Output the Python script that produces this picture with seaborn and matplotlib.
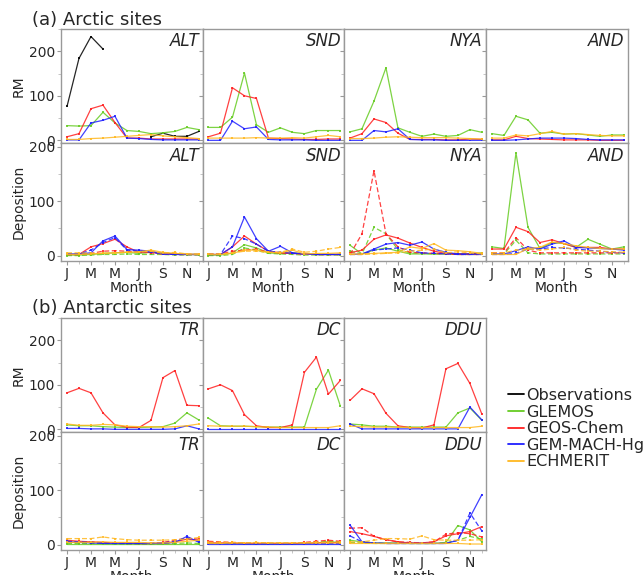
import numpy as np
import pandas as pd
import matplotlib
matplotlib.use("Agg")
import matplotlib.pyplot as plt
from matplotlib.lines import Line2D
from matplotlib.ticker import MultipleLocator
import seaborn as sns

nan = np.nan
months = list(range(1, 13))
month_ticks = [1, 3, 5, 7, 9, 11]
month_labels = ['J', 'M', 'M', 'J', 'S', 'N']
models = ['Observations', 'GLEMOS', 'GEOS-Chem', 'GEM-MACH-Hg', 'ECHMERIT']
colors = ['black', '#66cc22', '#ff2020', '#1f1fff', '#ffb820']

arctic_sites = ['ALT', 'SND', 'NYA', 'AND']
antarctic_sites = ['TR', 'DC', 'DDU']

# RM, Arctic
alt_rm = {
    'Observations': [76, 184, 233, 205, nan, nan, nan, 8, 16, 9, 9, 20],
    'GLEMOS': [33, 32, 33, 63, 39, 22, 20, 15, 17, 20, 29, 24],
    'GEOS-Chem': [8, 15, 71, 79, 40, 5, 5, 3, 3, 3, 3, 3],
    'GEM-MACH-Hg': [1, 1, 39, 45, 54, 5, 4, 2, 1, 1, 1, 1],
    'ECHMERIT': [2, 2, 4, 5, 7, 9, 11, 13, 10, 8, 6, 4],
}
snd_rm = {
    'GLEMOS': [29, 29, 52, 151, 35, 18, 28, 18, 15, 22, 22, 22],
    'GEOS-Chem': [8, 16, 118, 100, 94, 5, 4, 3, 2, 2, 3, 3],
    'GEM-MACH-Hg': [0, 0, 43, 26, 30, 2, 1, 1, 1, 0, 0, 0],
    'ECHMERIT': [5, 5, 5, 5, 6, 5, 5, 6, 5, 8, 11, 8],
}
nya_rm = {
    'GLEMOS': [19, 26, 88, 163, 28, 18, 9, 14, 9, 11, 24, 18],
    'GEOS-Chem': [5, 15, 48, 40, 16, 2, 2, 2, 1, 1, 3, 2],
    'GEM-MACH-Hg': [0, 0, 22, 19, 26, 2, 1, 1, 0, 0, 0, 0],
    'ECHMERIT': [4, 4, 5, 7, 8, 7, 6, 6, 6, 5, 4, 3],
}
and_rm = {
    'GLEMOS': [15, 11, 54, 46, 16, 18, 14, 15, 12, 9, 12, 12],
    'GEOS-Chem': [1, 1, 9, 4, 3, 2, 1, 1, 1, 0, 0, 0],
    'GEM-MACH-Hg': [0, 0, 1, 3, 5, 5, 5, 4, 2, 1, 1, 1],
    'ECHMERIT': [5, 5, 12, 10, 15, 20, 14, 15, 13, 11, 10, 10],
}

# Deposition, Arctic (solid and dashed series per model)
alt_dep_solid = {
    'GLEMOS': [1, 1, 2, 4, 5, 6, 4, 6, 5, 3, 2, 2],
    'GEOS-Chem': [2, 2, 16, 22, 30, 16, 6, 6, 3, 3, 2, 2],
    'GEM-MACH-Hg': [3, 3, 5, 27, 36, 11, 10, 8, 3, 2, 2, 2],
    'ECHMERIT': [2, 2, 3, 4, 5, 6, 7, 10, 6, 4, 3, 2],
}
alt_dep_dashed = {
    'GLEMOS': [0, 0, 1, 2, 2, 3, 2, 2, 2, 1, 1, 1],
    'GEOS-Chem': [2, 2, 4, 8, 9, 8, 6, 5, 3, 2, 2, 2],
    'GEM-MACH-Hg': [3, 3, 10, 24, 33, 10, 8, 6, 3, 2, 2, 2],
    'ECHMERIT': [5, 5, 4, 4, 5, 6, 6, 8, 4, 6, 3, 3],
}
snd_dep_solid = {
    'GLEMOS': [1, 1, 5, 20, 14, 5, 4, 5, 3, 2, 2, 2],
    'GEOS-Chem': [2, 2, 16, 36, 21, 8, 5, 4, 3, 2, 2, 2],
    'GEM-MACH-Hg': [2, 2, 16, 71, 31, 8, 17, 5, 3, 2, 2, 2],
    'ECHMERIT': [2, 2, 4, 10, 10, 6, 5, 10, 3, 4, 4, 5],
}
snd_dep_dashed = {
    'GLEMOS': [0, 0, 2, 14, 10, 4, 3, 2, 1, 1, 1, 1],
    'GEOS-Chem': [3, 3, 8, 10, 12, 6, 5, 4, 3, 2, 2, 2],
    'GEM-MACH-Hg': [2, 2, 36, 31, 21, 8, 6, 4, 3, 2, 2, 2],
    'ECHMERIT': [3, 3, 5, 8, 8, 6, 6, 12, 6, 8, 12, 15],
}
nya_dep_solid = {
    'GLEMOS': [19, 3, 10, 14, 8, 3, 3, 3, 3, 3, 3, 5],
    'GEOS-Chem': [5, 10, 30, 38, 32, 23, 15, 8, 4, 3, 3, 3],
    'GEM-MACH-Hg': [2, 3, 12, 21, 24, 19, 25, 12, 6, 3, 3, 3],
    'ECHMERIT': [3, 3, 4, 5, 6, 16, 13, 22, 10, 9, 7, 4],
}
nya_dep_dashed = {
    'GLEMOS': [8, 3, 52, 40, 11, 5, 4, 3, 3, 2, 2, 2],
    'GEOS-Chem': [2, 40, 156, 40, 16, 6, 5, 4, 3, 2, 2, 2],
    'GEM-MACH-Hg': [2, 2, 10, 12, 14, 10, 5, 4, 3, 2, 2, 2],
    'ECHMERIT': [2, 2, 3, 4, 5, 8, 10, 12, 5, 7, 5, 3],
}
and_dep_solid = {
    'GLEMOS': [16, 13, 189, 52, 13, 24, 22, 15, 30, 21, 12, 16],
    'GEOS-Chem': [12, 12, 52, 44, 24, 29, 22, 15, 15, 15, 12, 12],
    'GEM-MACH-Hg': [3, 3, 9, 16, 12, 21, 27, 15, 14, 13, 12, 10],
    'ECHMERIT': [2, 2, 2, 13, 15, 25, 22, 18, 15, 13, 12, 12],
}
and_dep_dashed = {
    'GLEMOS': [3, 3, 28, 5, 3, 3, 3, 3, 3, 3, 3, 3],
    'GEOS-Chem': [5, 5, 33, 10, 5, 5, 5, 5, 5, 5, 5, 5],
    'GEM-MACH-Hg': [2, 2, 4, 12, 12, 15, 14, 12, 10, 8, 6, 5],
    'ECHMERIT': [5, 5, 10, 12, 10, 12, 15, 10, 8, 8, 7, 6],
}

# RM, Antarctic
tr_rm = {
    'GLEMOS': [10, 8, 8, 6, 5, 4, 4, 5, 6, 14, 37, 21],
    'GEOS-Chem': [82, 92, 82, 37, 10, 5, 4, 20, 116, 132, 54, 53],
    'GEM-MACH-Hg': [2, 2, 1, 1, 0, 0, 0, 0, 0, 1, 8, 1],
    'ECHMERIT': [12, 9, 9, 11, 10, 7, 6, 6, 5, 6, 8, 12],
}
dc_rm = {
    'GLEMOS': [25, 8, 7, 7, 6, 5, 5, 5, 5, 90, 133, 52],
    'GEOS-Chem': [91, 100, 87, 33, 8, 4, 4, 10, 128, 162, 79, 110],
    'GEM-MACH-Hg': [1, 1, 1, 1, 1, 1, 1, 1, 1, 1, 1, 1],
    'ECHMERIT': [8, 7, 7, 7, 6, 5, 4, 4, 4, 4, 4, 8],
}
ddu_rm = {
    'GLEMOS': [12, 10, 7, 7, 5, 5, 5, 5, 5, 37, 48, 20],
    'GEOS-Chem': [65, 91, 80, 36, 8, 4, 3, 10, 136, 148, 103, 34],
    'GEM-MACH-Hg': [12, 1, 1, 1, 1, 1, 1, 1, 1, 1, 50, 21],
    'ECHMERIT': [7, 6, 5, 5, 5, 4, 4, 4, 4, 4, 4, 7],
}

# Deposition, Antarctic
tr_dep_solid = {
    'GLEMOS': [1, 1, 1, 1, 1, 1, 1, 1, 1, 1, 1, 1],
    'GEOS-Chem': [8, 6, 5, 4, 3, 3, 2, 2, 3, 5, 10, 8],
    'GEM-MACH-Hg': [5, 4, 3, 2, 2, 2, 2, 2, 2, 4, 15, 4],
    'ECHMERIT': [4, 4, 4, 5, 4, 4, 4, 3, 3, 4, 6, 8],
}
tr_dep_dashed = {
    'GLEMOS': [2, 2, 2, 2, 1, 1, 1, 1, 1, 2, 3, 2],
    'GEOS-Chem': [6, 5, 5, 3, 3, 2, 2, 2, 4, 8, 12, 10],
    'GEM-MACH-Hg': [6, 5, 4, 3, 2, 2, 2, 2, 3, 6, 12, 6],
    'ECHMERIT': [11, 11, 11, 14, 11, 9, 8, 8, 8, 9, 10, 13],
}
dc_dep_solid = {
    'GLEMOS': [2, 2, 2, 1, 1, 1, 1, 1, 2, 3, 5, 4],
    'GEOS-Chem': [3, 3, 3, 2, 2, 2, 2, 2, 2, 3, 4, 3],
    'GEM-MACH-Hg': [1, 1, 1, 1, 1, 1, 1, 1, 1, 1, 1, 1],
    'ECHMERIT': [2, 2, 3, 3, 3, 3, 3, 3, 3, 3, 3, 3],
}
dc_dep_dashed = {
    'GLEMOS': [3, 3, 2, 2, 2, 2, 2, 2, 3, 4, 6, 5],
    'GEOS-Chem': [6, 5, 4, 3, 3, 2, 2, 2, 4, 6, 8, 6],
    'GEM-MACH-Hg': [2, 2, 2, 2, 2, 2, 2, 2, 2, 2, 2, 2],
    'ECHMERIT': [4, 4, 4, 3, 4, 3, 3, 3, 3, 4, 4, 5],
}
ddu_dep_solid = {
    'GLEMOS': [8, 5, 3, 3, 3, 2, 2, 2, 4, 35, 27, 5],
    'GEOS-Chem': [24, 20, 15, 9, 5, 3, 3, 5, 16, 20, 24, 33],
    'GEM-MACH-Hg': [36, 5, 3, 2, 2, 2, 2, 2, 2, 8, 50, 92],
    'ECHMERIT': [2, 2, 2, 2, 2, 2, 2, 2, 2, 2, 1, 1],
}
ddu_dep_dashed = {
    'GLEMOS': [4, 3, 2, 2, 2, 2, 2, 2, 3, 8, 15, 10],
    'GEOS-Chem': [30, 31, 15, 9, 5, 4, 3, 5, 19, 22, 20, 14],
    'GEM-MACH-Hg': [16, 5, 3, 2, 2, 2, 2, 2, 2, 8, 58, 25],
    'ECHMERIT': [5, 5, 8, 11, 11, 10, 16, 9, 8, 8, 8, 9],
}

rm_data = {'ALT': alt_rm, 'SND': snd_rm, 'NYA': nya_rm, 'AND': and_rm,
           'TR': tr_rm, 'DC': dc_rm, 'DDU': ddu_rm}
dep_data = {
    'ALT': (alt_dep_solid, alt_dep_dashed), 'SND': (snd_dep_solid, snd_dep_dashed),
    'NYA': (nya_dep_solid, nya_dep_dashed), 'AND': (and_dep_solid, and_dep_dashed),
    'TR': (tr_dep_solid, tr_dep_dashed), 'DC': (dc_dep_solid, dc_dep_dashed),
    'DDU': (ddu_dep_solid, ddu_dep_dashed),
}

# long-form table, gaps (nan) split a series into separate units
rows = []


def add_rows(site, quantity, kind, series):
    for model, vals in series.items():
        seg = 0
        for m, v in zip(months, vals):
            if np.isnan(v):
                seg += 1
                continue
            rows.append(dict(site=site, quantity=quantity, kind=kind, model=model,
                             unit=f'{model}-{kind}-{seg}', month=m, value=v))


for site, series in rm_data.items():
    add_rows(site, 'RM', 'solid', series)
for site, (solid, dashed) in dep_data.items():
    add_rows(site, 'Deposition', 'solid', solid)
    add_rows(site, 'Deposition', 'dashed', dashed)
df = pd.DataFrame(rows)

sns.set_style('white')
plt.rcParams['font.family'] = ['DejaVu Sans']
palette = dict(zip(models, colors))

W, H = 643, 575
fig = plt.figure(figsize=(W / 100, H / 100), dpi=100)

col_left = [61, 202.5, 344, 486]
col_w = 141.5
# (top, bottom) in pixels for each row
row_px = {('arctic', 'RM'): (29, 143), ('arctic', 'Deposition'): (143, 261),
          ('antarctic', 'RM'): (318, 432), ('antarctic', 'Deposition'): (432, 550)}
ylims = {'RM': (-6, 250), 'Deposition': (-10, 207)}


def panel(region, quantity, col, site):
    top, bot = row_px[(region, quantity)]
    ax = fig.add_axes([col_left[col] / W, 1 - bot / H, col_w / W, (bot - top) / H])
    sub = df[(df['site'] == site) & (df['quantity'] == quantity)]
    sns.lineplot(data=sub, x='month', y='value', hue='model', style='kind',
                 units='unit', estimator=None, palette=palette,
                 hue_order=[m for m in models if m in set(sub['model'])],
                 style_order=['solid', 'dashed'],
                 dashes={'solid': '', 'dashed': (4, 2)},
                 markers={'solid': 's', 'dashed': 's'}, markersize=2,
                 markeredgewidth=0, linewidth=0.9, alpha=0.85,
                 legend=False, ax=ax)
    ax.set_xlim(0.5, 12.3)
    ax.set_ylim(*ylims[quantity])
    ax.set_yticks([0, 100, 200])
    ax.yaxis.set_minor_locator(MultipleLocator(50))
    ax.set_xticks(month_ticks)
    ax.xaxis.set_minor_locator(MultipleLocator(1))
    ax.tick_params(which='major', direction='out', length=3, color='#999999',
                   labelsize=10, pad=1.5, left=True, bottom=True)
    ax.tick_params(which='minor', direction='out', length=2, color='#bbbbbb',
                   left=True, bottom=True)
    for s in ax.spines.values():
        s.set_color('#999999')
        s.set_linewidth(1)
    if quantity == 'Deposition':
        ax.set_xticklabels(month_labels)
        ax.set_xlabel('Month', fontsize=10, labelpad=0)
    else:
        ax.set_xticklabels([])
        ax.set_xlabel('')
    if col == 0:
        ax.set_ylabel(quantity, fontsize=10, labelpad=2)
    else:
        ax.set_yticklabels([])
        ax.set_ylabel('')
    ax.text(0.98, 0.97, site, transform=ax.transAxes, ha='right', va='top',
            style='italic', fontsize=12)
    return ax


for i, site in enumerate(arctic_sites):
    panel('arctic', 'RM', i, site)
    panel('arctic', 'Deposition', i, site)
for i, site in enumerate(antarctic_sites):
    panel('antarctic', 'RM', i, site)
    panel('antarctic', 'Deposition', i, site)

fig.text(32 / W, 1 - 25 / H, '(a) Arctic sites', fontsize=13, va='baseline')
fig.text(32 / W, 1 - 313 / H, '(b) Antarctic sites', fontsize=13, va='baseline')

handles = [Line2D([0], [0], color=c, lw=1.3) for c in colors]
fig.legend(handles, models, loc='upper left', bbox_to_anchor=(508 / W, 1 - 388 / H),
           frameon=False, fontsize=11.5, handlelength=1.0, handletextpad=0.15,
           labelspacing=0.1, borderaxespad=0, borderpad=0)

fig.savefig('out.png', dpi=100)
